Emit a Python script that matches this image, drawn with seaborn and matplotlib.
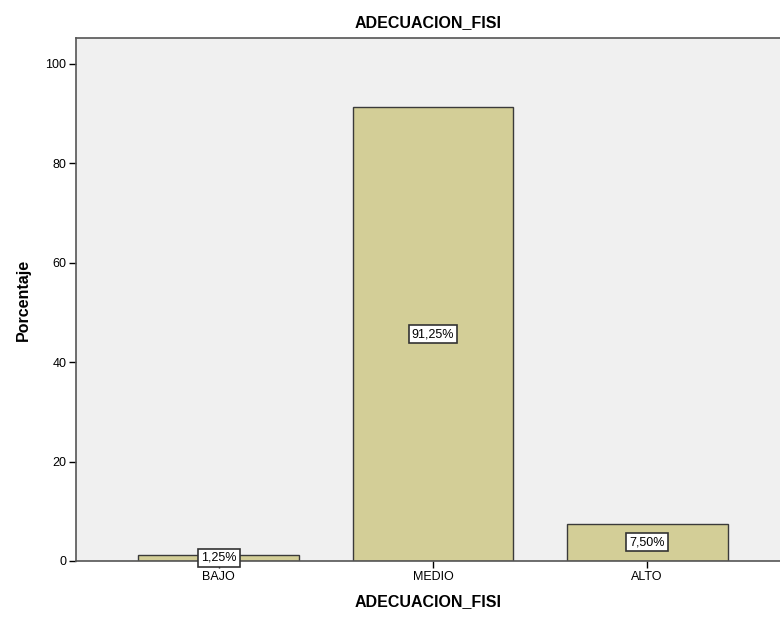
import matplotlib
matplotlib.use("Agg")
import matplotlib.pyplot as plt
import seaborn as sns
import pandas as pd

categories = ["BAJO", "MEDIO", "ALTO"]
percentages = [1.25, 91.25, 7.50]
labels = ["1,25%", "91,25%", "7,50%"]

sns.set_style("white")
plt.rcParams['font.family'] = ['Liberation Sans', 'DejaVu Sans']
plt.rcParams['text.color'] = 'black'
plt.rcParams['axes.labelcolor'] = 'black'
plt.rcParams['xtick.color'] = 'black'
plt.rcParams['ytick.color'] = 'black'

df = pd.DataFrame({"cat": categories, "pct": percentages})

fig = plt.figure(figsize=(7.8, 6.19), dpi=100)
ax = fig.add_axes([0.0974, 0.0937, 0.9026, 0.8449])
ax.set_facecolor("#F0F0F0")

sns.barplot(data=df, x="cat", y="pct", order=categories, color="#D3CE97",
            saturation=1, width=0.75, edgecolor="#3a3a3a", linewidth=1.0, ax=ax)

for i, (v, lab) in enumerate(zip(percentages, labels)):
    ax.text(i, v / 2, lab, ha="center", va="center", fontsize=9, color="black",
            bbox=dict(boxstyle="square,pad=0.25", facecolor="white", edgecolor="#333333", linewidth=1.2))

ax.set_xlim(-0.666, 2.62)
ax.set_ylim(0, 105.2)
ax.set_yticks([0, 20, 40, 60, 80, 100])
ax.tick_params(axis="both", labelsize=9, length=5, width=1, direction="out", colors="black",
               left=True, bottom=True, pad=2)

for side in ["left", "bottom", "top"]:
    ax.spines[side].set_visible(True)
    ax.spines[side].set_color("#555555")
    ax.spines[side].set_linewidth(1.2)
ax.spines["right"].set_visible(False)

ax.set_xlabel("ADECUACION_FISI", fontsize=11.5, fontweight="bold", labelpad=8, color="black")
ax.set_ylabel("Porcentaje", fontsize=11.5, fontweight="bold", labelpad=10, color="black")
ax.set_title("ADECUACION_FISI", fontsize=11.5, fontweight="bold", pad=8, color="black")

fig.savefig("out.png", dpi=100)
